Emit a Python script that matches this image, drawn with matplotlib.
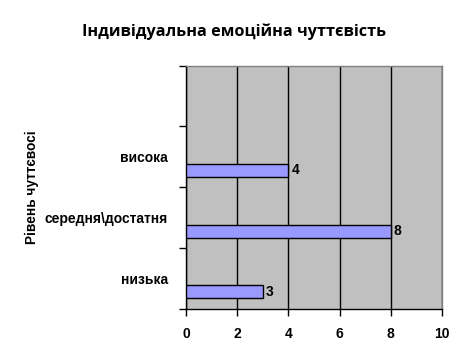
import matplotlib
matplotlib.use("Agg")
import matplotlib.pyplot as plt
from matplotlib.ticker import FixedLocator

categories = ["низька", "середня\\достатня", "висока"]
values = [3, 8, 4]
x_ticks = [0, 2, 4, 6, 8, 10]
title = "Індивідуальна емоційна чуттєвість"
ylabel = "Рівень чуттєвосі"

W, H = 468, 364
fig = plt.figure(figsize=(W / 100, H / 100), dpi=100)
fig.patch.set_facecolor("white")
ax = fig.add_axes([186 / W, 1 - 309 / H, (442 - 186) / W, (309 - 65.5) / H])
ax.set_facecolor("#C0C0C0")

FS = 10
ypos = list(range(len(categories)))
bar_y = [y - 0.22 for y in ypos]
ax.barh(bar_y, values, height=0.215, color="#9999FF", edgecolor="black",
        linewidth=1.0, zorder=3)
for by, v in zip(bar_y, values):
    ax.text(v + 0.12, by, str(v), ha="left", va="center", fontsize=FS,
            fontweight="bold", family="Liberation Sans", zorder=4)

ax.set_xlim(0, 10)
ax.set_ylim(-0.5, 3.5)
ax.set_xticks(x_ticks)
ax.set_xticklabels([str(t) for t in x_ticks], fontsize=FS, fontweight="bold",
                   family="Liberation Sans")
ax.tick_params(axis="x", direction="out", length=5, width=1, pad=8, color="black")

ax.yaxis.set_major_locator(FixedLocator([-0.5, 0.5, 1.5, 2.5, 3.5]))
ax.yaxis.set_major_formatter(plt.NullFormatter())
ax.yaxis.set_minor_locator(FixedLocator(ypos))
ax.set_yticklabels(categories, minor=True, fontsize=FS, fontweight="bold",
                   family="Liberation Sans")
ax.tick_params(axis="y", which="major", direction="out", length=5, width=1, color="black")
ax.tick_params(axis="y", which="minor", length=0, pad=13)

ax.grid(axis="x", color="black", linewidth=1.0, zorder=1)
ax.set_axisbelow(True)
for s in ["top", "right"]:
    ax.spines[s].set_color("#808080")
    ax.spines[s].set_linewidth(1.0)
for s in ["left", "bottom"]:
    ax.spines[s].set_color("black")
    ax.spines[s].set_linewidth(1.0)

fig.text(234 / W, 1 - 32 / H, title, ha="center", va="center", fontsize=11.7,
         fontweight="bold", family="Open Sans")
fig.text(32 / W, 1 - 187 / H, ylabel, ha="center", va="center", rotation=90,
         fontsize=9.8, fontweight="bold", family="Liberation Sans")

fig.savefig("out.png", dpi=100, facecolor="white")
